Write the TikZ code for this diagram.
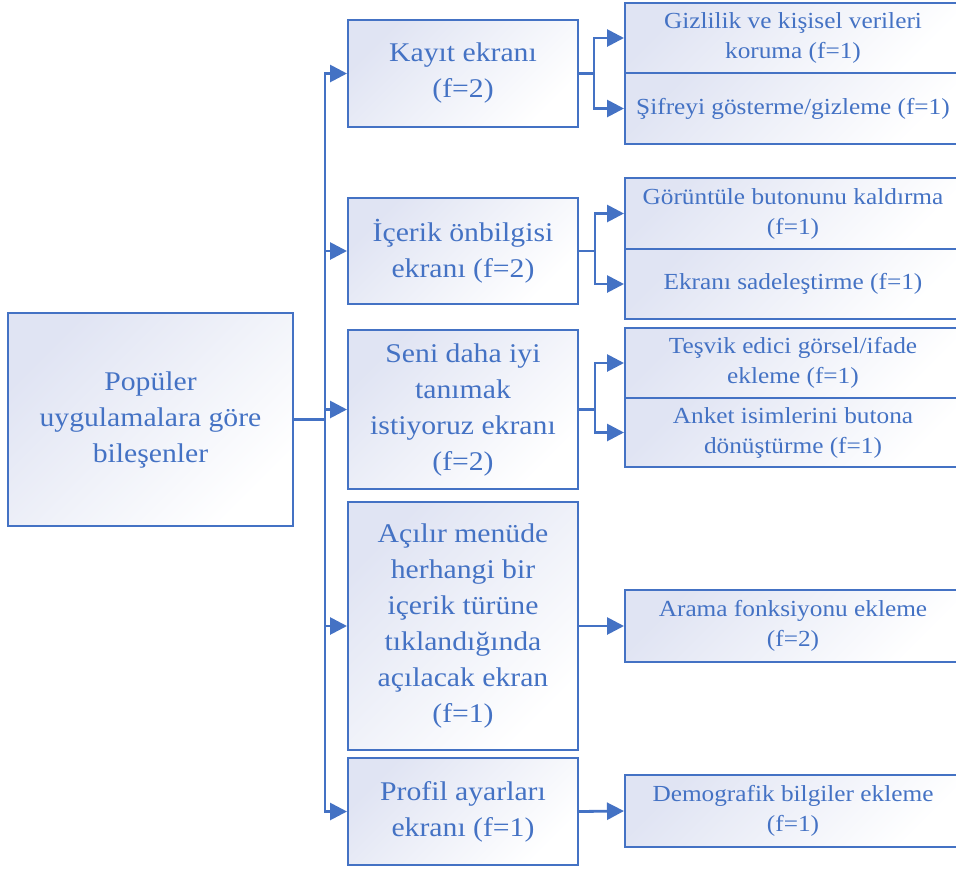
\documentclass[tikz,border=0pt]{standalone}
\usepackage{fontspec}
\setmainfont[FakeStretch=1.1]{Liberation Serif}
\usetikzlibrary{arrows.meta}
\definecolor{bl}{HTML}{4472C4}
\definecolor{bfill}{HTML}{E0E4F3}
\tikzset{
  box/.style={draw=bl, line width=2pt, top color=bfill, bottom color=white, shading angle=45,
    text=bl, align=center, inner sep=0pt, anchor=center},
  bigbox/.style={box, font=\fontsize{27}{36}\selectfont},
  midbox/.style={bigbox, minimum width=230pt},
  rbox/.style={box, font=\fontsize{23}{30}\selectfont, minimum width=336pt},
  conn/.style={draw=bl, line width=2.8pt},
  arr/.style={conn, -{Triangle[length=17pt,width=17pt]}}
}
\begin{document}
\begin{tikzpicture}[x=1pt,y=-1pt]
\useasboundingbox (0,0) rectangle (956,868);
% root
\node[bigbox, minimum width=285pt, minimum height=213pt] (root) at (150.5,419.5) {Popüler\\uygulamalara göre\\bileşenler};
% middle column
\node[midbox, minimum height=107pt] (kayit) at (463,73.5) {Kayıt ekranı\\(f=2)};
\node[midbox, minimum height=106pt] (icerik) at (463,251) {İçerik önbilgisi\\ekranı (f=2)};
\node[midbox, minimum height=159pt] (seni) at (463,409.5) {Seni daha iyi\\tanımak\\istiyoruz ekranı\\(f=2)};
\node[midbox, minimum height=248pt] (acilir) at (463,626) {Açılır menüde\\herhangi bir\\içerik türüne\\tıklandığında\\açılacak ekran\\(f=1)};
\node[midbox, minimum height=107pt] (profil) at (463,811.5) {Profil ayarları\\ekranı (f=1)};
% right column
\node[rbox, minimum height=70pt] (giz) at (793,38) {Gizlilik ve kişisel verileri\\koruma (f=1)};
\node[rbox, minimum height=71pt] (sif) at (793,108.5) {Şifreyi gösterme/gizleme (f=1)};
\node[rbox, minimum height=71pt] (gor) at (793,213.5) {Görüntüle butonunu kaldırma\\(f=1)};
\node[rbox, minimum height=70pt] (ekr) at (793,284) {Ekranı sadeleştirme (f=1)};
\node[rbox, minimum height=70pt] (tes) at (793,363) {Teşvik edici görsel/ifade\\ekleme (f=1)};
\node[rbox, minimum height=69pt] (ank) at (793,432.5) {Anket isimlerini butona\\dönüştürme (f=1)};
\node[rbox, minimum height=72pt] (ara) at (793,626) {Arama fonksiyonu ekleme\\(f=2)};
\node[rbox, minimum height=72pt] (dem) at (793,811) {Demografik bilgiler ekleme\\(f=1)};
% trunk
\coordinate (tr) at (325,419.5);
\draw[conn] (root.east) -- (tr);
\draw[arr] (tr) |- (kayit.west);
\draw[arr] (tr) |- (icerik.west);
\draw[arr] (tr) |- (seni.west);
\draw[arr] (tr) |- (acilir.west);
\draw[arr] (tr) |- (profil.west);
% branches
\coordinate (b1) at (594,73.5);
\draw[conn] (kayit.east) -- (b1);
\draw[arr] (b1) |- (giz.west);
\draw[arr] (b1) |- (sif.west);
\coordinate (b2) at (595,251);
\draw[conn] (icerik.east) -- (b2);
\draw[arr] (b2) |- (gor.west);
\draw[arr] (b2) |- (ekr.west);
\coordinate (b3) at (595,409.5);
\draw[conn] (seni.east) -- (b3);
\draw[arr] (b3) |- (tes.west);
\draw[arr] (b3) |- (ank.west);
\draw[arr] (acilir.east) -- (ara.west);
\draw[arr] (profil.east) -- (dem.west);
\end{tikzpicture}
\end{document}
